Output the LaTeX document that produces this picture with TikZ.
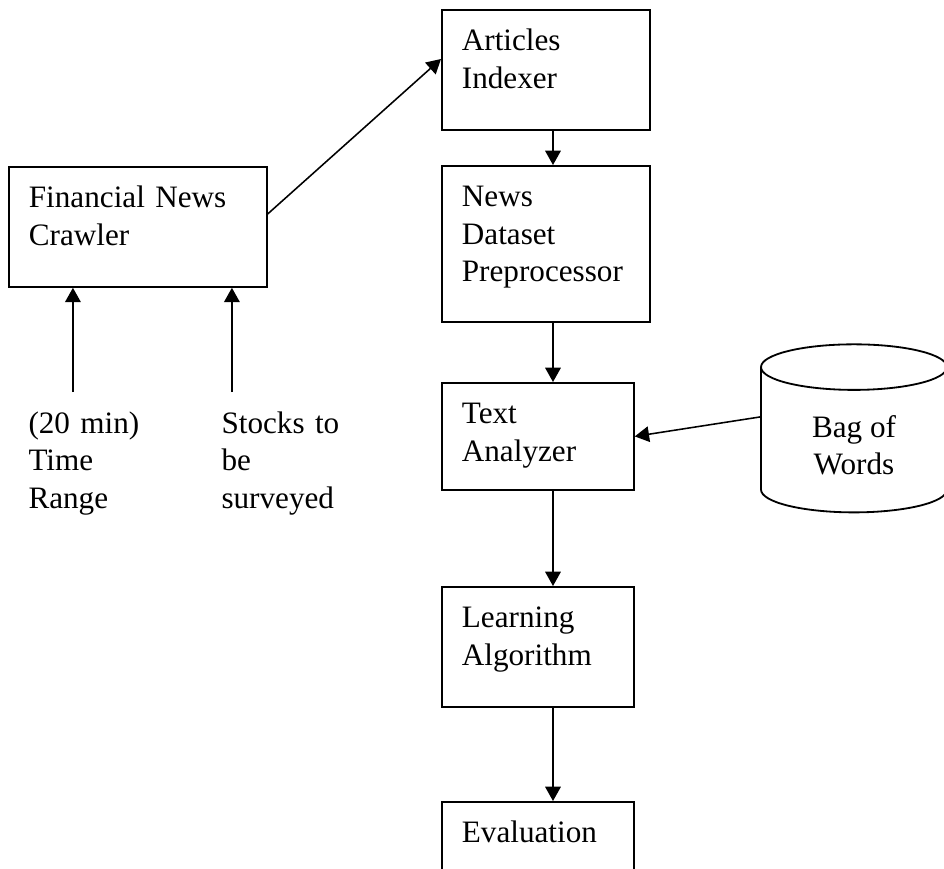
\documentclass[tikz,border=0pt]{standalone}
\usepackage{fontspec}
\setmainfont{Liberation Serif}
\usetikzlibrary{arrows.meta,shapes.geometric}
\tikzset{box/.style = {draw, line width=0.7pt, anchor=north west, inner xsep=7.7pt, inner ysep=0pt,
                       align=left, text height=15.8pt, font=\fontsize{12pt}{14.4pt}\selectfont},
         lab/.style = {anchor=north west, inner sep=0pt, align=left, text width=60pt, text height=15.8pt,
                       font=\fontsize{12pt}{14.4pt}\selectfont},
         flow/.style = {line width=0.6pt, -{Triangle[length=5.5pt,width=6pt]}}}

\begin{document}
\begin{tikzpicture}[x=0.385pt, y=-0.385pt]
\clip (0,0) rectangle (944,869);
\coordinate (spine) at (553,0);
% the pipeline
\node[box, text width=83.9pt, text depth=30.4pt] (crawler) at (8,166) {Financial News\\Crawler};
\node[box, text width=64.7pt, text depth=30.4pt] (indexer) at (441,9) {Articles\\Indexer};
\node[box, text width=64.7pt, text depth=44.3pt] (preproc) at (441,165) {News\\Dataset\\Preprocessor};
\node[box, text width=58.5pt, text depth=25.4pt] (analyzer) at (441,382) {Text\\Analyzer};
\node[box, text width=58.5pt, text depth=30.4pt] (learning) at (441,586) {Learning\\Algorithm};
\node[box, text width=58.5pt, text depth=30.4pt] (evaluation) at (441,801) {Evaluation};
% inputs
\node[lab] (timelab) at (28,392) {(20 min)\\Time\\Range};
\node[lab] (stocklab) at (221,392) {Stocks to\\be\\surveyed};
\node[cylinder, draw, line width=0.7pt, shape border rotate=90, aspect=0.45,
      minimum width=71.6pt, minimum height=64.7pt, align=center,
      font=\fontsize{12pt}{14.4pt}\selectfont] (bag) at (854,445) {Bag of\\Words};
% arrows
\draw[flow] ([xshift=17.3pt]timelab.north west) -- ([xshift=17.3pt]timelab.north west |- crawler.south);
\draw[flow] ([xshift=4.2pt]stocklab.north west) -- ([xshift=4.2pt]stocklab.north west |- crawler.south);
\draw[flow] ([yshift=5pt]crawler.east) -- ([yshift=4.2pt]indexer.west);
\draw[flow] (indexer.south -| spine) -- (preproc.north -| spine);
\draw[flow] (preproc.south -| spine) -- (analyzer.north -| spine);
\draw[flow] (analyzer.south -| spine) -- (learning.north -| spine);
\draw[flow] (learning.south -| spine) -- (evaluation.north -| spine);
\draw[flow] ([yshift=10.8pt]bag.west) -- (analyzer.east);
\end{tikzpicture}
\end{document}
